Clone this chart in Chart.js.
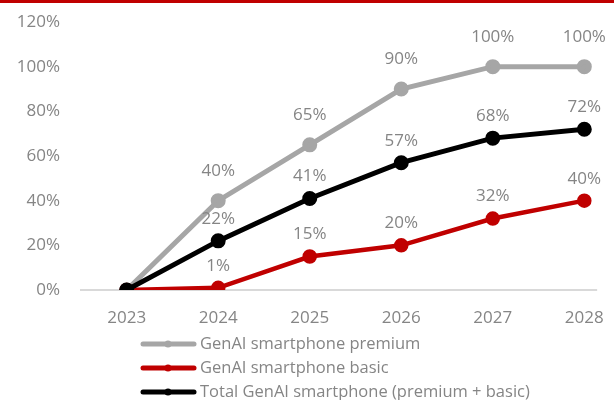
<!DOCTYPE html>
<html>
<head>
<meta charset="utf-8">
<script src="https://cdn.jsdelivr.net/npm/chart.js@4"></script>
<style>
  body { margin: 0; background: #fff; }
  #topbar { position: absolute; left: 0; top: 0; width: 614px; height: 3px; background: #c00000; }
</style>
</head>
<body>
<div id="topbar"></div>
<canvas id="genai_chart" width="614" height="400"></canvas>
<script>
const years = [2023, 2024, 2025, 2026, 2027, 2028];
const premium = [0, 40, 65, 90, 100, 100];
const basic = [0, 1, 15, 20, 32, 40];
const total = [0, 22, 41, 57, 68, 72];
const y_ticks = [0, 20, 40, 60, 80, 100, 120];

const series_names = [
    "GenAI smartphone premium",
    "GenAI smartphone basic",
    "Total GenAI smartphone (premium + basic)"
];

const text_grey = '#858585';
const font_family = "'Open Sans', sans-serif";

function toPoints(values) {
    return values.map((v, i) => ({ x: years[i], y: v }));
}

// value labels above each point (skipping the 0% starting point)
const valueLabels = {
    id: 'valueLabels',
    afterDatasetsDraw: (chart) => {
        const {ctx} = chart;
        ctx.save();
        ctx.font = '17px ' + font_family;
        ctx.fillStyle = text_grey;
        ctx.textAlign = 'center';
        ctx.textBaseline = 'middle';
        chart.data.datasets.forEach((ds, di) => {
            const meta = chart.getDatasetMeta(di);
            meta.data.forEach((pt, i) => {
                const v = ds.data[i].y;
                if (v === 0) return;
                ctx.fillText(v + '%', pt.x, pt.y - ds.labelOffset);
            });
        });
        ctx.restore();
    }
};

// legend: short line with a dot, stacked under the axis
const lineLegend = {
    id: 'lineLegend',
    afterDraw: (chart) => {
        const {ctx} = chart;
        ctx.save();
        ctx.font = '16.5px ' + font_family;
        ctx.textBaseline = 'middle';
        chart.data.datasets.forEach((ds, i) => {
            const y = 344 + i * 24;
            ctx.strokeStyle = ds.borderColor;
            ctx.lineWidth = 5;
            ctx.lineCap = 'round';
            ctx.beginPath();
            ctx.moveTo(143, y);
            ctx.lineTo(194, y);
            ctx.stroke();
            ctx.fillStyle = ds.borderColor;
            ctx.beginPath();
            ctx.arc(168, y, 3.5, 0, Math.PI * 2);
            ctx.fill();
            ctx.fillStyle = text_grey;
            ctx.fillText(ds.label, 200, y);
        });
        ctx.restore();
    }
};

const ctx = document.getElementById('genai_chart').getContext('2d');

const genai_chart = new Chart(ctx, {
    type: 'line',
    data: {
        datasets: [
            {
                label: series_names[0],
                data: toPoints(premium),
                borderColor: '#a6a6a6',
                backgroundColor: '#a6a6a6',
                borderWidth: 5,
                pointRadius: 5,
                labelOffset: 30,
                order: 3
            },
            {
                label: series_names[1],
                data: toPoints(basic),
                borderColor: '#c00000',
                backgroundColor: '#c00000',
                borderWidth: 4.5,
                pointRadius: 5,
                labelOffset: 22,
                order: 2
            },
            {
                label: series_names[2],
                data: toPoints(total),
                borderColor: '#000000',
                backgroundColor: '#000000',
                borderWidth: 5,
                pointRadius: 5,
                labelOffset: 22,
                order: 1
            }
        ]
    },
    options: {
        responsive: false,
        animation: false,
        layout: {
            padding: { top: 22, right: 0, bottom: 0, left: 0 }
        },
        scales: {
            x: {
                type: 'linear',
                min: 2022.49,
                max: 2028.14,
                afterBuildTicks: (scale) => {
                    scale.ticks = years.map(v => ({ value: v }));
                },
                afterFit: (scale) => {
                    scale.height = 110;
                },
                grid: { display: false },
                border: { display: false },
                ticks: {
                    padding: 10,
                    color: text_grey,
                    font: { size: 17, family: font_family },
                    callback: (v) => String(v)
                }
            },
            y: {
                min: 0,
                max: 120,
                afterBuildTicks: (scale) => {
                    scale.ticks = y_ticks.map(v => ({ value: v }));
                },
                afterFit: (scale) => {
                    scale.width = 80;
                    scale.paddingTop = 0;
                    scale.paddingBottom = 0;
                },
                border: { display: false },
                grid: {
                    drawTicks: false,
                    lineWidth: 2,
                    color: (c) => c.tick && c.tick.value === 0 ? '#d9d9d9' : 'rgba(0,0,0,0)'
                },
                ticks: {
                    padding: 20,
                    color: text_grey,
                    font: { size: 17, family: font_family },
                    callback: (v) => v + '%'
                }
            }
        },
        plugins: {
            legend: { display: false },
            tooltip: { enabled: false }
        }
    },
    plugins: [valueLabels, lineLegend]
});
</script>
</body>
</html>
